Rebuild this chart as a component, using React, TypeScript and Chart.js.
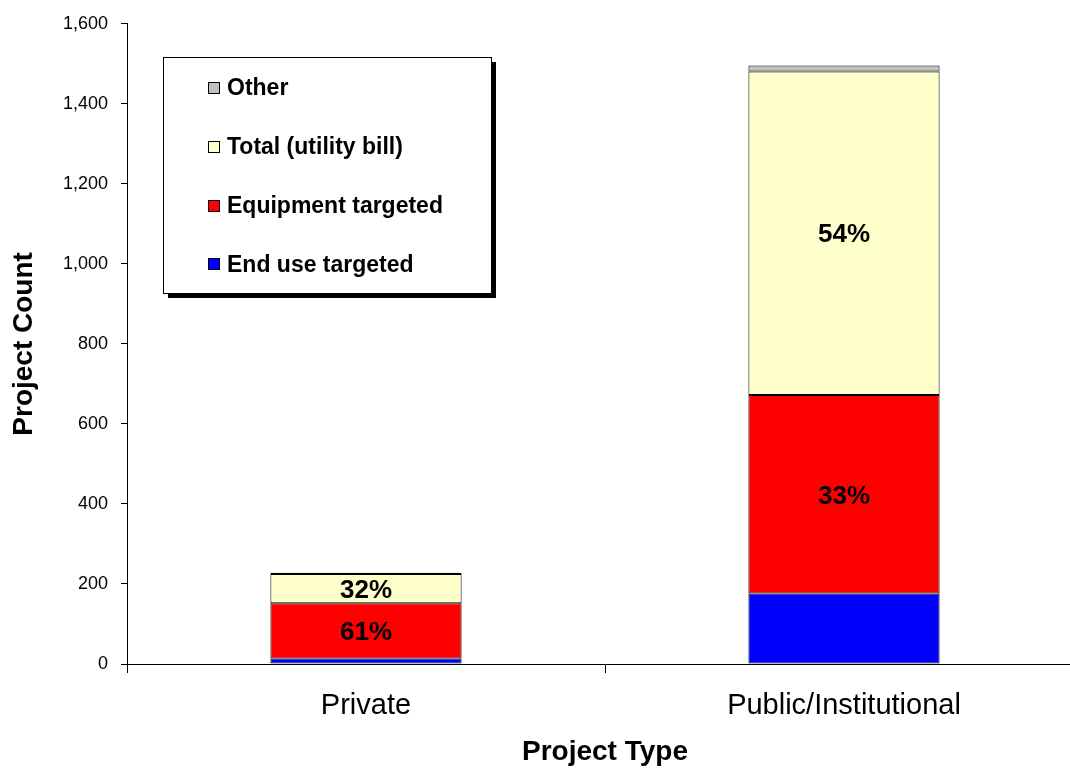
import React, { useEffect, useRef } from "react";
import { Chart, registerables } from "chart.js";

Chart.register(...registerables);

const categories = ["Private", "Public/Institutional"];
const seriesNames = ["End use targeted", "Equipment targeted", "Total (utility bill)", "Other"];
const endUse = [14, 176];
const equipment = [138, 496];
const totalBill = [73, 809];
const other = [3, 15];
const endUseLabels = ["", ""];
const equipmentLabels = ["61%", "33%"];
const totalBillLabels = ["32%", "54%"];
const otherLabels = ["", ""];
const colors = ["#0000FF", "#FF0000", "#FFFFCC", "#C0C0C0"];
const yTicks = [0, 200, 400, 600, 800, 1000, 1200, 1400, 1600];

const FONT = "Arial, 'Liberation Sans', Helvetica, sans-serif";

const segLabelPlugin = {
  id: "segLabels",
  afterDatasetsDraw(chart: any) {
    const ctx = chart.ctx;
    ctx.save();
    ctx.font = `bold 26px ${FONT}`;
    ctx.fillStyle = "#000";
    ctx.textAlign = "center";
    ctx.textBaseline = "middle";
    chart.data.datasets.forEach((ds: any, i: number) => {
      const meta = chart.getDatasetMeta(i);
      meta.data.forEach((bar: any, j: number) => {
        const t = ds.pctLabels?.[j];
        if (!t) return;
        const { x, y, base } = bar.getProps(["x", "y", "base"], true);
        ctx.fillText(t, x, (y + base) / 2 + 2);
      });
    });
    ctx.restore();
  },
};

const legendBoxPlugin = {
  id: "legendBox",
  afterDraw(chart: any) {
    const ctx = chart.ctx;
    const bx = 163, by = 57, bw = 328, bh = 236, sh = 5;
    ctx.save();
    ctx.fillStyle = "#000";
    ctx.fillRect(bx + sh, by + sh, bw, bh);
    ctx.fillStyle = "#fff";
    ctx.fillRect(bx, by, bw, bh);
    ctx.strokeStyle = "#000";
    ctx.lineWidth = 1;
    ctx.strokeRect(bx + 0.5, by + 0.5, bw, bh);
    const ds = chart.data.datasets.slice().reverse();
    ctx.font = `bold 23px ${FONT}`;
    ctx.textBaseline = "middle";
    ctx.textAlign = "left";
    ds.forEach((d: any, i: number) => {
      const cy = 88 + i * 58.8;
      ctx.fillStyle = d.backgroundColor;
      ctx.fillRect(208, Math.round(cy) - 6, 11, 11);
      ctx.strokeStyle = "#000";
      ctx.strokeRect(208.5, Math.round(cy) - 5.5, 11, 11);
      ctx.fillStyle = "#000";
      ctx.fillText(d.label, 227, cy + 1);
    });
    ctx.restore();
  },
};

export default function App() {
  const ref = useRef<HTMLCanvasElement>(null);
  useEffect(() => {
    document.body.style.margin = "0";
    const datasetsRaw = [
      { data: endUse, labels: endUseLabels },
      { data: equipment, labels: equipmentLabels },
      { data: totalBill, labels: totalBillLabels },
      { data: other, labels: otherLabels },
    ];
    const chart = new Chart(ref.current!, {
      type: "bar",
      data: {
        labels: categories,
        datasets: datasetsRaw.map((d, i) => ({
          label: seriesNames[i],
          data: d.data,
          pctLabels: d.labels,
          backgroundColor: colors[i],
          borderColor: "#000",
          borderWidth: 1,
          borderSkipped: false,
          barPercentage: 0.4,
          categoryPercentage: 1,
        })) as any,
      },
      options: {
        responsive: false,
        animation: false,
        layout: { padding: { top: 17, right: 7, left: 0, bottom: 0 } },
        plugins: { legend: { display: false }, tooltip: { enabled: false } },
        scales: {
          x: {
            stacked: true,
            grid: { drawOnChartArea: false, drawTicks: true, tickLength: 9, color: "#000", offset: true },
            border: { display: true, color: "#000", width: 1 },
            ticks: { color: "#000", font: { family: FONT, size: 29 }, padding: 16, maxRotation: 0 },
            title: {
              display: true,
              text: "Project Type",
              color: "#000",
              font: { family: FONT, size: 28, weight: "bold" },
              padding: { top: 0, bottom: 0 },
            },
            afterFit: (s: any) => { s.height = 105; },
          },
          y: {
            stacked: true,
            min: 0,
            max: 1600,
            afterBuildTicks: (s: any) => { s.ticks = yTicks.map((v) => ({ value: v })); },
            grid: { drawOnChartArea: false, drawTicks: true, tickLength: 6, color: "#000" },
            border: { display: true, color: "#000", width: 1 },
            ticks: {
              color: "#000",
              font: { family: FONT, size: 18 },
              padding: 13,
              callback: (v: any) => Number(v).toLocaleString("en-US"),
            },
            title: {
              display: true,
              text: "Project Count",
              color: "#000",
              font: { family: FONT, size: 28, weight: "bold" },
              padding: { top: 7, bottom: 0 },
            },
            afterFit: (s: any) => { s.width = 127; },
          },
        },
      },
      plugins: [segLabelPlugin, legendBoxPlugin],
    } as any);
    return () => chart.destroy();
  }, []);
  return (
    <div style={{ position: "absolute", left: 0, top: 0, width: 1070, height: 769, overflow: "hidden", background: "#fff" }}>
      <canvas ref={ref} width={1090} height={769} style={{ display: "block" }} />
    </div>
  );
}
